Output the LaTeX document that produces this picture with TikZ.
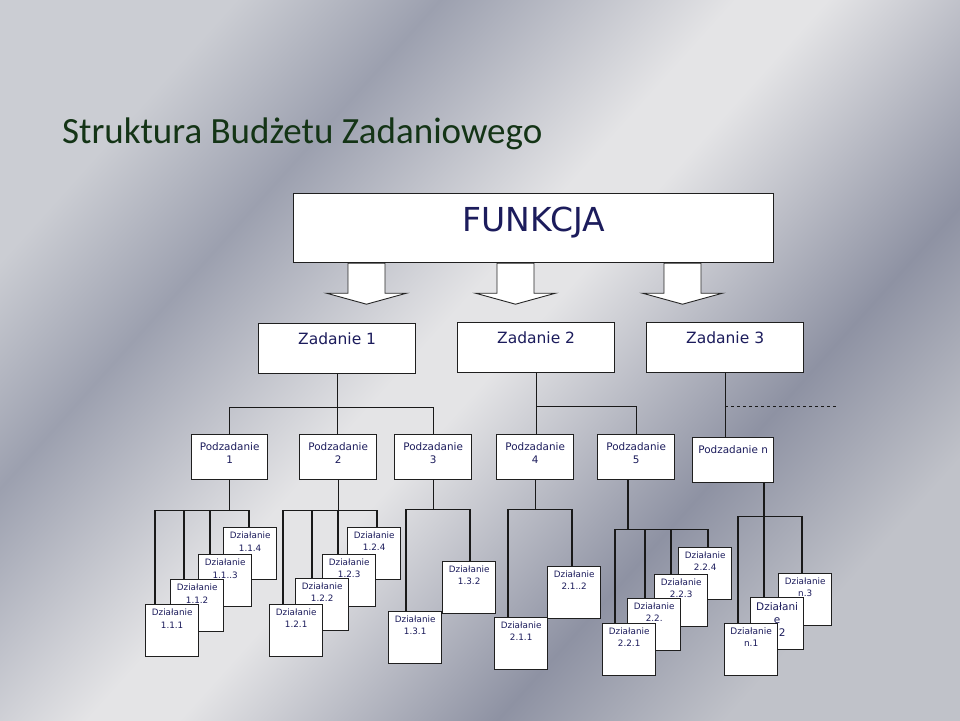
\documentclass[tikz,border=0pt]{standalone}
\usepackage{fontspec}
\setmainfont{DejaVu Sans}
\newfontfamily\titlefont{Carlito}
\usetikzlibrary{calc}
\pgfdeclarelayer{background}
\pgfdeclarelayer{lines}
\pgfsetlayers{background,lines,main}
\definecolor{navy}{RGB}{28,28,92}
\definecolor{ttl}{RGB}{20,52,22}
\definecolor{bgA}{HTML}{CBCDD3}
\definecolor{bgB}{HTML}{9CA0AF}
\definecolor{bgC}{HTML}{E4E4E6}
\definecolor{bgD}{HTML}{8E92A3}
\definecolor{bgE}{HTML}{C0C2C9}
\pgfdeclarehorizontalshading{bgsh}{100bp}{color(0bp)=(bgA); color(25bp)=(bgA); color(34bp)=(bgB); color(47bp)=(bgC); color(51bp)=(bgC); color(65bp)=(bgD); color(75bp)=(bgE); color(100bp)=(bgE)}
\newcommand\dzbox[5][12.5]{%
  \node[boxst, minimum width=53pt, minimum height=52pt,
    label={[dztxt, font=\fontsize{8.8}{#1}\selectfont]north:#5}] (#2) at (#3,#4) {};}
\begin{document}
\begin{tikzpicture}[x=1pt,y=-1pt,
  boxst/.style={draw=black!88, fill=white, line width=1.3pt, inner sep=0pt, anchor=north west},
  conn/.style={draw=black!90, line width=1.3pt},
  dashconn/.style={draw=black!90, line width=1pt, dashed},
  bigarrow/.style={draw=black!85, fill=white, line width=0.9pt, line join=miter},
  txt/.style={text=navy, align=center, inner sep=0pt, anchor=north},
  dztxt/.style={txt, yshift=-4.5pt},
  zadbox/.style={boxst, minimum width=157pt, minimum height=50pt},
  ztxt/.style={txt, yshift=-9.5pt, font=\fontsize{15.5}{18}\selectfont},
  podbox/.style={boxst, minimum width=77pt, minimum height=45pt},
  ptxt/.style={txt, yshift=-8.5pt, font=\fontsize{10.4}{12.5}\selectfont}
]
\useasboundingbox (0,0) rectangle (960,720);
\begin{pgfonlayer}{background}
  \shade[shading=bgsh, shading angle=-42] (0,0) rectangle (960,720);
\end{pgfonlayer}

% title
\node[anchor=base west, inner sep=0pt, text=ttl, font=\titlefont\fontsize{37}{40}\selectfont] (title) at (62,143) {Struktura Budżetu Zadaniowego};

% FUNKCJA
\node[boxst, line width=1.2pt, minimum width=480pt, minimum height=69pt,
  label={[txt, yshift=-14pt, font=\fontsize{33}{36}\selectfont]north:FUNKCJA}] (funkcja) at (293,193) {};

% block arrows
\foreach \dx in {55,204,371}{
  \draw[bigarrow] ($(funkcja.south west)+(\dx,0)$) -- ++(37,0) -- ++(0,30) -- ++(21.5,0) -- ++(-40,11) -- ++(-40,-11) -- ++(21.5,0) -- cycle;
}

% Zadania
\node[zadbox, label={[ztxt]north:Zadanie 1}] (z1) at (258,323) {};
\node[zadbox, label={[ztxt]north:Zadanie 2}] (z2) at (457,322) {};
\node[zadbox, label={[ztxt]north:Zadanie 3}] (z3) at (646,322) {};

% Podzadania
\node[podbox, minimum width=76pt, label={[ptxt]north:Podzadanie\\1}] (p1) at (191,434) {};
\node[podbox, label={[ptxt]north:Podzadanie\\2}] (p2) at (299,434) {};
\node[podbox, label={[ptxt]north:Podzadanie\\3}] (p3) at (394,434) {};
\node[podbox, label={[ptxt]north:Podzadanie\\4}] (p4) at (496,434) {};
\node[podbox, label={[ptxt]north:Podzadanie\\5}] (p5) at (597,434) {};
\node[podbox, minimum width=81pt, label={[ptxt]north:Podzadanie n}] (pn) at (692,437) {};

% Dzialania group 1.1
\dzbox[13.5]{d114}{223}{527}{Działanie\\1.1.4}
\dzbox[13]{d113}{198}{554}{Działanie\\1.1..3}
\dzbox[13.5]{d112}{170}{579}{Działanie\\1.1.2}
\dzbox[13.5]{d111}{145}{604}{Działanie\\1.1.1}
% group 1.2
\dzbox{d124}{347}{527}{Działanie\\1.2.4}
\dzbox{d123}{322}{554}{Działanie\\1.2.3}
\dzbox{d122}{295}{578}{Działanie\\1.2.2}
\dzbox{d121}{269}{604}{Działanie\\1.2.1}
% group 1.3
\dzbox{d132}{442}{561}{Działanie\\1.3.2}
\dzbox{d131}{388}{611}{Działanie\\1.3.1}
% group 2.1
\dzbox{d212}{547}{566}{Działanie\\2.1..2}
\dzbox{d211}{494}{617}{Działanie\\2.1.1}
% group 2.2
\dzbox{d224}{678}{547}{Działanie\\2.2.4}
\dzbox{d223}{654}{574}{Działanie\\2.2.3}
\dzbox{d222}{627}{598}{Działanie\\2.2.}
\dzbox{d221}{602}{623}{Działanie\\2.2.1}
% group n
\dzbox{dn3}{778}{573}{Działanie\\n.3}
\node[boxst, minimum width=53pt, minimum height=52pt,
  label={[txt, yshift=-5pt, font=\fontsize{10.5}{13}\selectfont]north:Działani\\e\\n.2}] (dn2) at (750,597) {};
\node[boxst, minimum width=53pt, minimum height=52pt,
  label={[txt, yshift=-4pt, font=\fontsize{9}{12.5}\selectfont]north:Działanie\\n.1}] (dn1) at (724,623) {};

% connectors
\begin{pgfonlayer}{lines}
  % level 1 -> 2
  \coordinate (b1) at ($(z1.south)+(0,33)$);
  \draw[conn] (z1.south) -- (z1.south |- p2.north);
  \draw[conn] (p1.north) -- (p1.north |- b1) -- (p3.north |- b1) -- (p3.north);
  \coordinate (b2) at ($(z2.south)+(0,33)$);
  \draw[conn] (z2.south) -- (z2.south |- p4.north);
  \draw[conn] (b2) -- (p5.north |- b2) -- (p5.north);
  \draw[conn] (z3.south) -- (z3.south |- pn.north);
  \draw[dashconn] (z3.south |- b2) -- ++(113,0);

  % group 1.1
  \coordinate (q1) at ($(p1.south)+(0,30)$);
  \coordinate (c111) at ($(d111.north west)+(10,0)$);
  \coordinate (c112) at ($(d112.north west)+(14,0)$);
  \coordinate (c113) at ($(d113.north west)+(12,0)$);
  \coordinate (c114) at ($(d114.north west)+(26,0)$);
  \draw[conn] (p1.south) -- (q1);
  \draw[conn] (c111) -- (c111 |- q1) -- (c114 |- q1) -- (c114);
  \draw[conn] (c112) -- (c112 |- q1);
  \draw[conn] (c113) -- (c113 |- q1);

  % group 1.2
  \coordinate (q2) at ($(p2.south)+(0,30)$);
  \coordinate (c121) at ($(d121.north west)+(14,0)$);
  \coordinate (c122) at ($(d122.north west)+(17,0)$);
  \coordinate (c123) at ($(d123.north west)+(16,0)$);
  \coordinate (c124) at ($(d124.north west)+(30,0)$);
  \draw[conn] (p2.south) -- (q2);
  \draw[conn] (c121) -- (c121 |- q2) -- (c124 |- q2) -- (c124);
  \draw[conn] (c122) -- (c122 |- q2);
  \draw[conn] (c123) -- (c123 |- q2);

  % group 1.3
  \coordinate (q3) at ($(p3.south)+(0,29)$);
  \coordinate (c131) at ($(d131.north west)+(18,0)$);
  \coordinate (c132) at ($(d132.north west)+(28,0)$);
  \draw[conn] (p3.south) -- (q3);
  \draw[conn] (c131) -- (c131 |- q3) -- (c132 |- q3) -- (c132);

  % group 2.1
  \coordinate (q4) at ($(p4.south)+(0,29)$);
  \coordinate (c211) at ($(d211.north west)+(14,0)$);
  \coordinate (c212) at ($(d212.north west)+(25,0)$);
  \draw[conn] (p4.south) -- (q4);
  \draw[conn] (c211) -- (c211 |- q4) -- (c212 |- q4) -- (c212);

  % group 2.2
  \coordinate (s5) at ($(p5.south west)+(31,0)$);
  \coordinate (q5) at ($(s5)+(0,49)$);
  \coordinate (c221) at ($(d221.north west)+(13,0)$);
  \coordinate (c222) at ($(d222.north west)+(18,0)$);
  \coordinate (c223) at ($(d223.north west)+(17,0)$);
  \coordinate (c224) at ($(d224.north west)+(30,0)$);
  \draw[conn] (s5) -- (q5);
  \draw[conn] (c221) -- (c221 |- q5) -- (c224 |- q5) -- (c224);
  \draw[conn] (c222) -- (c222 |- q5);
  \draw[conn] (c223) -- (c223 |- q5);

  % group n
  \coordinate (qn) at ($(pn.south)+(0,33)$);
  \coordinate (cn1) at ($(dn1.north west)+(14,0)$);
  \coordinate (cn2) at ($(dn2.north west)+(14,0)$);
  \coordinate (cn3) at ($(dn3.north west)+(24,0)$);
  \draw[conn] (cn2 |- pn.south) -- (cn2);
  \draw[conn] (cn1) -- (cn1 |- qn) -- (cn3 |- qn) -- (cn3);
\end{pgfonlayer}
\end{tikzpicture}
\end{document}
